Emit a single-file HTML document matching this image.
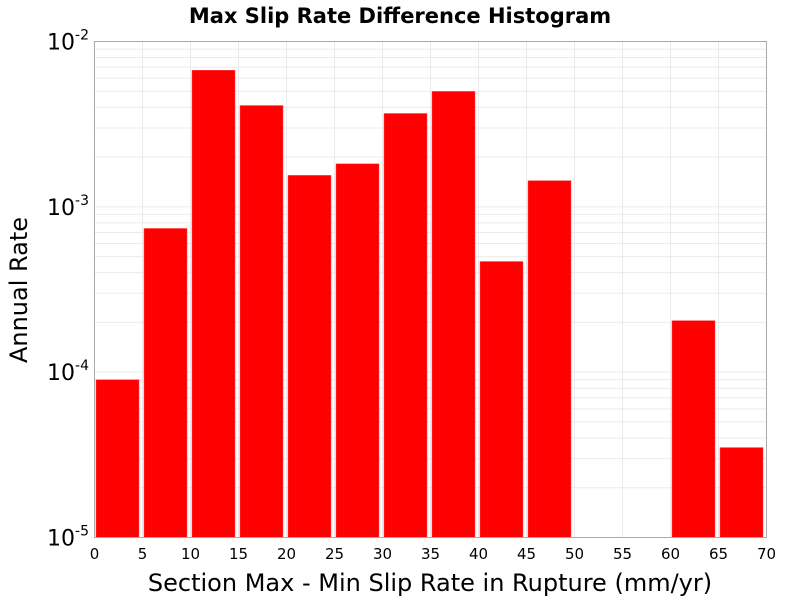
<!DOCTYPE html>
<html><head><meta charset="utf-8"><style>
body{margin:0;background:#fff;}
svg text{font-family:"DejaVu Sans","Liberation Sans",sans-serif;}
</style></head><body>
<svg id="chart" width="800" height="600">
<text x="400" y="23" text-anchor="middle" font-size="21" font-weight="bold">Max Slip Rate Difference Histogram</text>
<g id="grid"></g>
<g id="bars"></g>
<rect x="94.5" y="41.5" width="672" height="496" fill="none" stroke="#aaa"/>
<g id="axes"></g>
<text x="430" y="591" text-anchor="middle" font-size="24">Section Max - Min Slip Rate in Rupture (mm/yr)</text>
<text transform="translate(27,290) rotate(-90)" text-anchor="middle" font-size="24">Annual Rate</text>
</svg>
<script>
const binStarts=[0,5,10,15,20,25,30,35,40,45,50,55,60,65];
const binWidth=5;
const rates=[9.0e-5,7.4e-4,6.7e-3,4.1e-3,1.55e-3,1.82e-3,3.67e-3,4.99e-3,4.67e-4,1.44e-3,0,0,2.05e-4,3.5e-5];
const xTicks=[0,5,10,15,20,25,30,35,40,45,50,55,60,65,70];
const yDecades=[-5,-4,-3,-2];
const NS="http://www.w3.org/2000/svg";
const L=94.5,R=766.5,T=41.5,B=537.5;
const xs=v=>L+(v-0)/70*(R-L);
const ys=v=>B-(Math.log10(v)+5)/3*(B-T);
function mk(tag,attrs,parent){const e=document.createElementNS(NS,tag);for(const k in attrs)e.setAttribute(k,attrs[k]);parent.appendChild(e);return e;}
const grid=document.getElementById('grid'),bars=document.getElementById('bars'),axes=document.getElementById('axes');
xTicks.forEach(t=>{
  const l=mk('line',{x1:xs(t),x2:xs(t),y1:T,y2:B,stroke:'#ebebeb'},grid);
  
  
  const tx=mk('text',{x:xs(t),y:559,'text-anchor':'middle','font-size':'15'},axes);
  tx.textContent=t;
  
  
});
for(let d=-5;d<-2;d++){for(let m=1;m<10;m++){
  const v=m*Math.pow(10,d);
  const l=mk('line',{x1:L,x2:R,y1:ys(v),y2:ys(v),stroke:'#ebebeb'},grid);
  
  
}}
yDecades.forEach(d=>{
  const y=ys(Math.pow(10,d));
  const tx=mk('text',{x:89,y:y+8,'text-anchor':'end','font-size':'22'},axes);
  tx.innerHTML='10<tspan dy="-10" font-size="14">'+d+'</tspan>';
  
  
});
binStarts.forEach((s,i)=>{
  const v=rates[i];if(!(v>0))return;
  const x0=xs(s)+1.5,x1=xs(s+binWidth)-3.5,y=Math.max(ys(v),T);
  const r=mk('rect',{x:x0,y:y,width:x1-x0,height:B-y,fill:'#ff0000',stroke:'#ff5050','stroke-width':'0.5'},bars);
  
  
});
</script>
</body></html>
